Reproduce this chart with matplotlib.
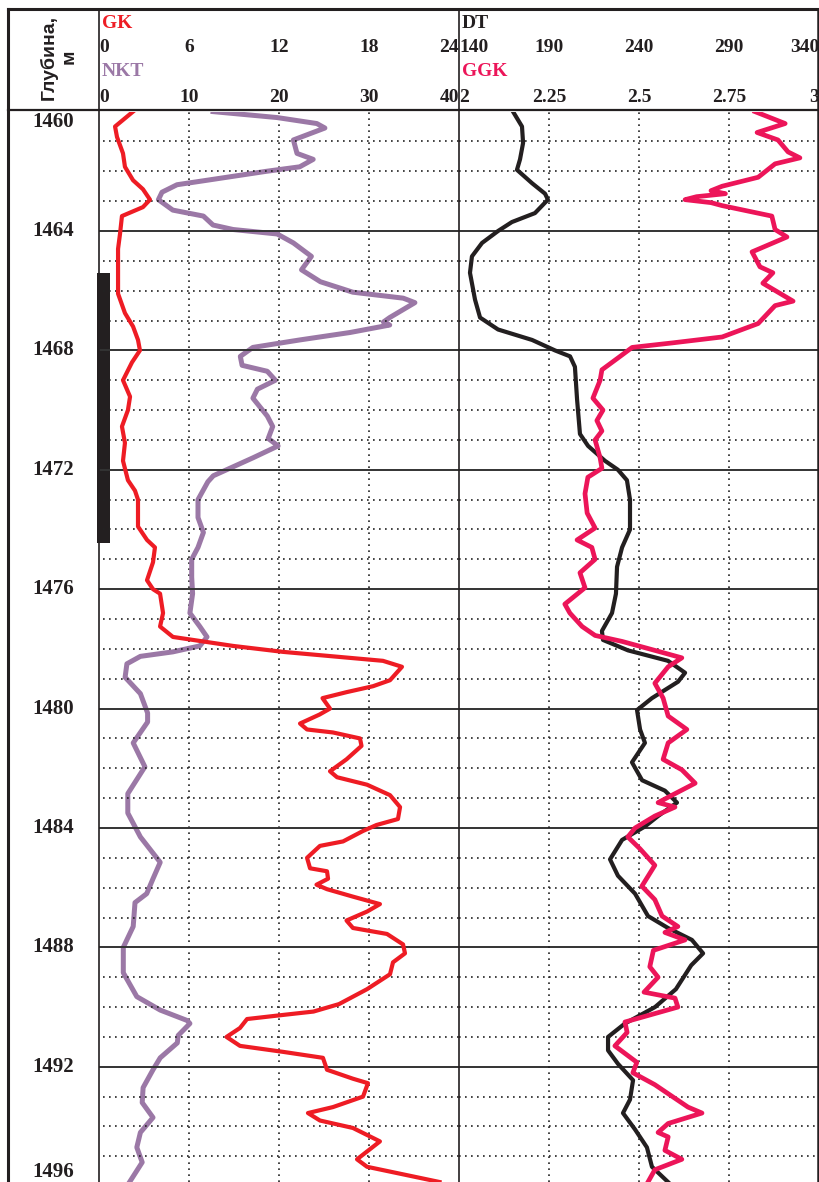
# =====================================================
# Well log panel: GK / NKT and DT / GGK vs depth
# =====================================================

import numpy as np
import matplotlib.pyplot as plt
from matplotlib.lines import Line2D
from matplotlib.patches import Rectangle
from matplotlib.transforms import blended_transform_factory

# -----------------------------------------------------
# Data
# -----------------------------------------------------
DEPTH_TOP = 1460.0
DEPTH_BOTTOM = 1495.86
DEPTH_LABELS = [1460, 1464, 1468, 1472, 1476, 1480, 1484, 1488, 1492, 1496]

# perforated interval shown in the depth column
PERF_TOP = 1465.4
PERF_BOTTOM = 1474.45

GK_SCALE = [0, 6, 12, 18, 24]
NKT_SCALE = [0, 10, 20, 30, 40]
DT_SCALE = [140, 190, 240, 290, 340]
GGK_SCALE = [2, 2.25, 2.5, 2.75, 3]
GGK_SCALE_LABELS = ["2", "2.25", "2.5", "2.75", "3"]

gk_depth = [1460.0, 1460.5, 1460.85, 1461.4, 1461.85, 1462.3, 1462.6, 1462.95, 1463.2, 1463.5,
            1464.1, 1464.6, 1465.4, 1466.1, 1466.75, 1467.2, 1467.65, 1468.0, 1468.4, 1469.0,
            1469.55, 1470.0, 1470.55, 1471.1, 1471.7, 1472.35, 1472.7, 1473.0, 1473.9, 1474.35,
            1474.6, 1475.1, 1475.7, 1476.0, 1476.15, 1476.8, 1477.25, 1477.6, 1477.7, 1477.9,
            1478.1, 1478.25, 1478.4, 1478.6, 1479.05, 1479.25, 1479.45, 1479.65, 1480.0, 1480.2,
            1480.5, 1480.7, 1480.8, 1481.0, 1481.25, 1481.7, 1482.1, 1482.3, 1482.55, 1482.9,
            1483.3, 1483.7, 1483.9, 1484.1, 1484.45, 1484.6, 1485.0, 1485.35, 1485.45, 1485.7,
            1485.9, 1486.05, 1486.3, 1486.55, 1486.8, 1487.1, 1487.35, 1487.55, 1487.9, 1488.2,
            1488.5, 1488.9, 1489.4, 1489.9, 1490.15, 1490.25, 1490.4, 1490.7, 1491.0, 1491.3,
            1491.5, 1491.7, 1492.1, 1492.4, 1492.55, 1493.0, 1493.35, 1493.55, 1493.8, 1494.05,
            1494.5, 1495.1, 1495.35, 1495.86]
gk_values = [2.27, 1.07, 1.2, 1.6, 1.73, 2.27, 2.93, 3.4, 2.93, 1.53,
             1.4, 1.27, 1.27, 1.27, 1.73, 2.27, 2.6, 2.73, 2.2, 1.6,
             2.07, 1.93, 1.53, 1.73, 1.6, 1.93, 2.4, 2.6, 2.6, 3.2,
             3.73, 3.6, 3.2, 3.6, 4.07, 4.27, 4.07, 4.93, 6.27, 8.93,
             12.27, 15.6, 18.93, 20.2, 19.4, 18.27, 16.5, 14.9, 15.4, 14.7,
             13.4, 13.87, 15.6, 17.4, 17.5, 16.5, 15.4, 15.87, 17.87, 19.4,
             20.07, 19.93, 18.5, 17.6, 16.27, 14.73, 13.87, 14.07, 15.2, 15.27,
             14.5, 15.2, 16.93, 18.73, 17.87, 16.5, 16.93, 19.2, 20.27, 20.4,
             19.6, 19.4, 17.87, 16.0, 14.3, 12.5, 9.87, 9.4, 8.5, 9.4,
             12.27, 14.93, 15.2, 16.93, 17.93, 17.6, 15.6, 13.93, 14.73, 16.93,
             18.73, 17.2, 17.87, 22.7]

nkt_depth = [1460.0, 1460.2, 1460.4, 1460.55, 1460.95, 1461.4, 1461.6, 1461.85, 1462.0, 1462.3,
             1462.45, 1462.7, 1462.95, 1463.3, 1463.5, 1463.8, 1463.95, 1464.1, 1464.4, 1464.85,
             1465.3, 1465.7, 1466.05, 1466.25, 1466.4, 1466.9, 1467.05, 1467.15, 1467.4, 1467.65,
             1467.9, 1468.2, 1468.5, 1468.7, 1469.0, 1469.3, 1469.6, 1470.2, 1470.55, 1470.95,
             1471.2, 1471.6, 1471.9, 1472.2, 1472.4, 1473.0, 1473.6, 1474.1, 1474.6, 1475.0,
             1475.6, 1476.15, 1476.8, 1477.25, 1477.6, 1477.9, 1478.1, 1478.25, 1478.5, 1478.95,
             1479.5, 1480.15, 1480.45, 1481.15, 1481.95, 1482.85, 1483.5, 1484.3, 1485.15, 1485.7,
             1486.2, 1486.5, 1487.3, 1488.0, 1488.85, 1489.65, 1490.1, 1490.45, 1490.55, 1490.95,
             1491.2, 1491.7, 1492.1, 1492.7, 1493.2, 1493.7, 1494.2, 1494.7, 1495.2, 1495.86]
nkt_values = [12.67, 19.8, 24.2, 25.1, 21.6, 22.0, 23.8, 22.3, 18.6, 12.0,
              8.67, 7.0, 6.6, 8.2, 11.6, 12.67, 14.9, 19.8, 21.6, 23.6,
              22.5, 24.6, 28.2, 33.8, 35.1, 32.3, 31.6, 32.3, 27.9, 22.3,
              17.1, 15.7, 15.9, 18.7, 19.6, 17.6, 17.1, 18.7, 19.3, 18.8,
              19.9, 17.1, 14.9, 12.7, 12.1, 11.0, 11.0, 11.6, 11.0, 10.3,
              10.3, 10.4, 10.1, 11.2, 12.0, 11.2, 8.2, 4.6, 3.1, 2.9,
              4.6, 5.4, 5.4, 3.8, 5.1, 3.2, 3.2, 4.6, 6.8, 6.0,
              5.3, 4.0, 3.8, 2.7, 2.7, 4.2, 6.8, 9.8, 10.1, 8.8,
              8.7, 6.8, 6.0, 4.9, 4.8, 6.0, 4.6, 4.2, 4.8, 3.4]

dt_depth = [1460.0, 1460.5, 1461.05, 1461.6, 1461.95, 1462.4, 1462.75, 1462.95, 1463.4, 1463.7,
            1464.0, 1464.4, 1464.85, 1465.4, 1466.3, 1466.9, 1467.3, 1467.65, 1468.0, 1468.2,
            1468.55, 1469.65, 1470.8, 1471.2, 1471.7, 1472.0, 1472.35, 1473.0, 1474.0, 1474.6,
            1475.25, 1476.15, 1476.8, 1477.4, 1477.7, 1478.05, 1478.4, 1478.8, 1479.1, 1479.65,
            1480.05, 1480.7, 1481.15, 1481.8, 1482.4, 1482.75, 1483.15, 1483.6, 1483.95, 1484.4,
            1485.05, 1485.6, 1486.2, 1486.95, 1487.35, 1487.75, 1488.2, 1488.6, 1489.4, 1490.0,
            1490.55, 1491.0, 1491.45, 1491.9, 1492.45, 1493.1, 1493.55, 1494.1, 1494.7, 1495.35,
            1495.86]
dt_values = [170.0, 175.0, 175.6, 173.9, 172.2, 180.6, 187.8, 189.4, 182.2, 169.4,
             161.7, 152.8, 147.2, 146.1, 148.9, 151.7, 161.7, 180.6, 193.3, 201.7,
             204.4, 205.6, 207.2, 211.7, 221.1, 228.3, 233.3, 235.0, 235.0, 230.6,
             227.8, 227.2, 225.0, 219.4, 220.0, 233.9, 256.1, 265.6, 261.7, 247.2,
             238.9, 240.6, 243.3, 236.1, 241.7, 254.4, 261.1, 250.6, 243.3, 230.6,
             223.9, 228.3, 237.8, 245.0, 256.1, 269.4, 275.6, 269.0, 260.5, 248.9,
             232.2, 222.8, 222.8, 228.3, 236.7, 235.0, 231.1, 237.8, 244.4, 247.2,
             256.1]

ggk_depth = [1460.0, 1460.4, 1460.7, 1460.95, 1461.35, 1461.55, 1461.75, 1462.2, 1462.5, 1462.65,
             1462.75, 1462.85, 1462.95, 1463.05, 1463.15, 1463.5, 1463.95, 1464.2, 1464.7, 1465.2,
             1465.4, 1465.75, 1466.05, 1466.35, 1466.5, 1467.1, 1467.55, 1467.75, 1467.9, 1468.25,
             1468.65, 1469.0, 1469.6, 1470.0, 1470.35, 1470.7, 1471.0, 1471.6, 1471.95, 1472.25,
             1472.8, 1473.45, 1473.95, 1474.35, 1474.6, 1475.0, 1475.45, 1475.95, 1476.5, 1476.8,
             1477.25, 1477.55, 1477.75, 1478.05, 1478.3, 1478.6, 1479.15, 1479.65, 1480.25, 1480.7,
             1481.15, 1481.7, 1482.05, 1482.5, 1482.9, 1483.15, 1483.3, 1483.6, 1484.0, 1484.3,
             1484.7, 1485.25, 1485.95, 1486.4, 1486.95, 1487.3, 1487.5, 1487.75, 1488.1, 1488.65,
             1489.0, 1489.5, 1489.7, 1490.0, 1490.5, 1490.85, 1491.3, 1491.85, 1492.2, 1492.6,
             1493.35, 1493.55, 1493.9, 1494.2, 1494.35, 1494.8, 1495.1, 1495.45, 1495.86]
ggk_values = [2.822, 2.906, 2.828, 2.886, 2.914, 2.947, 2.878, 2.831, 2.731, 2.70,
              2.74, 2.66, 2.628, 2.70, 2.731, 2.869, 2.878, 2.911, 2.814, 2.836,
              2.872, 2.844, 2.886, 2.928, 2.878, 2.831, 2.731, 2.592, 2.481, 2.442,
              2.397, 2.392, 2.372, 2.4, 2.383, 2.397, 2.378, 2.392, 2.397, 2.358,
              2.35, 2.356, 2.378, 2.328, 2.369, 2.378, 2.336, 2.35, 2.294, 2.308,
              2.342, 2.378, 2.453, 2.544, 2.619, 2.581, 2.544, 2.567, 2.581, 2.633,
              2.581, 2.567, 2.619, 2.656, 2.592, 2.553, 2.6, 2.544, 2.489, 2.469,
              2.503, 2.544, 2.508, 2.544, 2.564, 2.608, 2.572, 2.628, 2.54, 2.53,
              2.553, 2.514, 2.6, 2.608, 2.461, 2.467, 2.433, 2.494, 2.483, 2.544,
              2.636, 2.675, 2.581, 2.553, 2.581, 2.572, 2.619, 2.544, 2.525]

# -----------------------------------------------------
# Styling
# -----------------------------------------------------
GK_COLOR = "#ee1c24"
NKT_COLOR = "#9b78a6"
DT_COLOR = "#231f20"
GGK_COLOR = "#ec1559"
SERIF = "Liberation Serif"

W, H, DPI = 819, 1182, 100
TRACK_TOP = 111.6          # pixel row of the 1460 m line


def fx(px):
    return px / W


def fy(py):
    return 1 - py / H


fig = plt.figure(figsize=(W / DPI, H / DPI), dpi=DPI)
fig.patch.set_facecolor("white")

ax_depth = fig.add_axes([fx(8), 0, fx(99) - fx(8), fy(TRACK_TOP)])
ax_gk = fig.add_axes([fx(99), 0, fx(459) - fx(99), fy(TRACK_TOP)])
ax_nkt = ax_gk.twiny()
ax_dt = fig.add_axes([fx(459), 0, fx(819) - fx(459), fy(TRACK_TOP)])
ax_ggk = ax_dt.twiny()

for ax in (ax_depth, ax_gk, ax_nkt, ax_dt, ax_ggk):
    ax.set_ylim(DEPTH_BOTTOM, DEPTH_TOP)
    ax.set_facecolor("none")
    for s in ax.spines.values():
        s.set_visible(False)
    ax.tick_params(which="both", length=0, labelbottom=False, labeltop=False,
                   labelleft=False, labelright=False)

ax_depth.set_xlim(0, 1)
ax_gk.set_xlim(GK_SCALE[0], GK_SCALE[-1])
ax_nkt.set_xlim(NKT_SCALE[0], NKT_SCALE[-1])
ax_dt.set_xlim(DT_SCALE[0], DT_SCALE[-1])
ax_ggk.set_xlim(GGK_SCALE[0], GGK_SCALE[-1])

# -------------------------
# Grid
# -------------------------
dotted = dict(color="#222222", lw=1.2, linestyle=(0, (1, 2.6)), zorder=1)
for d in range(int(DEPTH_TOP) + 1, int(DEPTH_BOTTOM) + 1):
    for ax in (ax_gk, ax_dt):
        if d % 4 == 0:
            ax.axhline(d, color="#333333", lw=1.4, zorder=1)
        else:
            # dotted rows in the first track start a little off the border
            xmin = 0.011 if ax is ax_gk else 0.0
            ax.axhline(d, xmin=xmin, **dotted)

for v in NKT_SCALE[1:-1]:
    ax_nkt.axvline(v, **dotted)
for v in GGK_SCALE[1:-1]:
    ax_ggk.axvline(v, **dotted)

# -------------------------
# Curves
# -------------------------
ax_nkt.plot(nkt_values, nkt_depth, color=NKT_COLOR, lw=3.6, zorder=3,
            solid_joinstyle="round")
ax_gk.plot(gk_values, gk_depth, color=GK_COLOR, lw=3.0, zorder=4,
           solid_joinstyle="round")
ax_gk.set_zorder(ax_nkt.get_zorder() + 1)

ax_dt.plot(dt_values, dt_depth, color=DT_COLOR, lw=3.0, zorder=3,
           solid_joinstyle="round")
ax_ggk.plot(ggk_values, ggk_depth, color=GGK_COLOR, lw=3.4, zorder=4,
            solid_joinstyle="round")

# -------------------------
# Depth column
# -------------------------
for d in DEPTH_LABELS:
    y, va = d, "center"
    if d == DEPTH_LABELS[0]:
        va = "top"
    elif d == DEPTH_LABELS[-1]:
        y, va = DEPTH_BOTTOM, "bottom"
    ax_depth.text(0.5, y, str(d), ha="center", va=va, fontsize=15,
                  fontweight="bold", family=SERIF, color="#231f20")

ax_depth.add_patch(Rectangle((0.978, PERF_TOP), 0.14, PERF_BOTTOM - PERF_TOP,
                             facecolor="#231f20", edgecolor="none",
                             clip_on=False, zorder=10))

# -----------------------------------------------------
# Header
# -----------------------------------------------------
fig.text(fx(59), fy(57), "Глубина,\nм", rotation=90, ha="center", va="center",
         multialignment="center", fontsize=14, fontweight="bold",
         family=["Liberation Sans", "DejaVu Sans"], color="#231f20",
         linespacing=1.2)


def header_row(ax, values, labels, py, color):
    tr = blended_transform_factory(ax.transData, fig.transFigure)
    for i, (v, lab) in enumerate(zip(values, labels)):
        ha = "center"
        if i == 0:
            ha = "left"
        elif i == len(values) - 1:
            ha = "right"
        ax.text(v, fy(py), lab, transform=tr, ha=ha, va="center", fontsize=14,
                fontweight="bold", family=SERIF, color=color, clip_on=False)


def header_name(ax, name, py, color):
    tr = blended_transform_factory(ax.transAxes, fig.transFigure)
    ax.text(0.008, fy(py), name, transform=tr, ha="left", va="center",
            fontsize=14, fontweight="bold", family=SERIF, color=color,
            clip_on=False)


header_name(ax_gk, "GK", 24, GK_COLOR)
header_row(ax_gk, GK_SCALE, [str(v) for v in GK_SCALE], 48, "#231f20")
header_name(ax_nkt, "NKT", 72, NKT_COLOR)
header_row(ax_nkt, NKT_SCALE, [str(v) for v in NKT_SCALE], 97, "#231f20")

header_name(ax_dt, "DT", 24, "#231f20")
header_row(ax_dt, DT_SCALE, [str(v) for v in DT_SCALE], 48, "#231f20")
header_name(ax_ggk, "GGK", 72, GGK_COLOR)
header_row(ax_ggk, GGK_SCALE, GGK_SCALE_LABELS, 97, "#231f20")

# -------------------------
# Frame lines
# -------------------------
frame = [
    ((8, 818), (9, 9), 2.2),        # top
    ((8, 818), (110, 110), 1.6),    # header bottom
    ((8, 8), (9, 1182), 2.2),       # outer left
    ((99, 99), (9, 1182), 1.2),     # depth / track 1
    ((459, 459), (9, 1182), 1.2),   # track 1 / track 2
    ((817.5, 817.5), (9, 1182), 1.8),  # right
]
for xs, ys, lw in frame:
    fig.add_artist(Line2D([fx(x) for x in xs], [fy(y) for y in ys],
                          color="#231f20", lw=lw, zorder=20))

fig.savefig("out.png", dpi=DPI, facecolor="white")
print("saved out.png")
